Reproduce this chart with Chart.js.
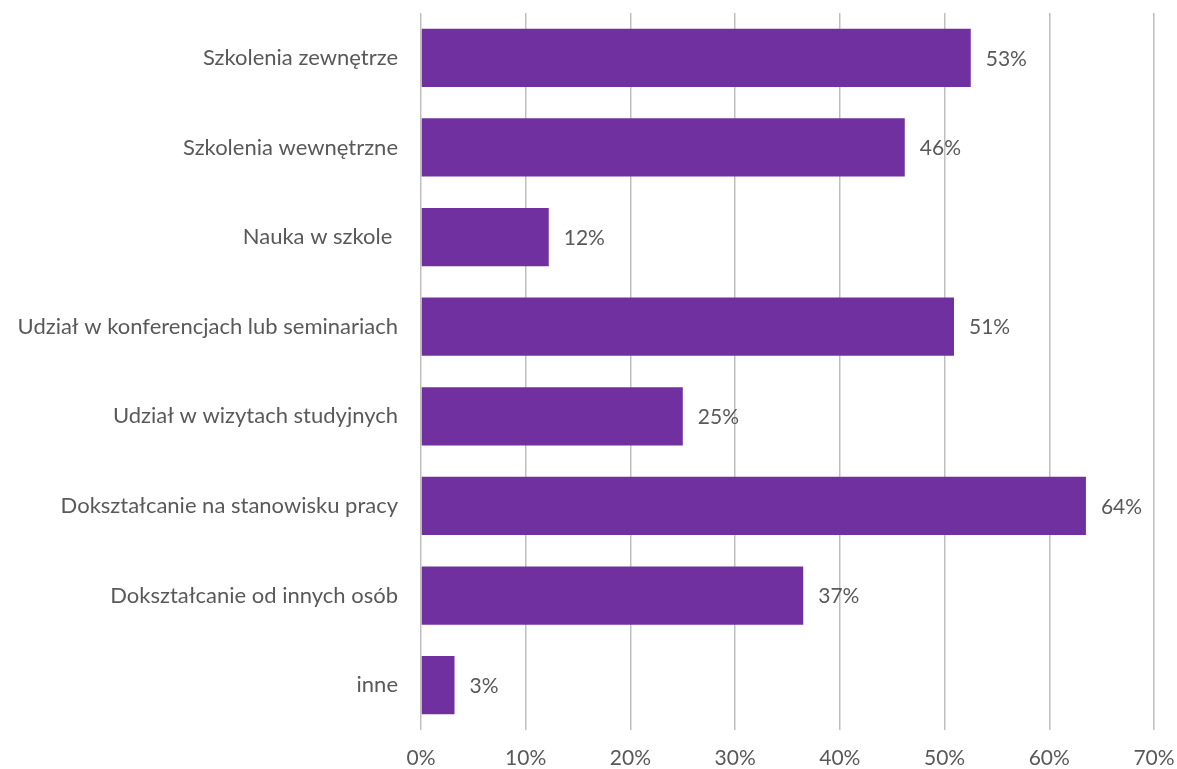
<!DOCTYPE html>
<html>
<head>
<meta charset="utf-8">
<script src="https://cdn.jsdelivr.net/npm/chart.js@4"></script>
<style>
  html, body { margin: 0; padding: 0; background: #fff; }
  #wrap { width: 1177px; height: 769px; }
</style>
</head>
<body>
<div id="wrap"><canvas id="myChart" width="1177" height="769"></canvas></div>
<script>
const categories = [
    "Szkolenia zewnętrze",
    "Szkolenia wewnętrzne",
    "Nauka w szkole ",
    "Udział w konferencjach lub seminariach",
    "Udział w wizytach studyjnych",
    "Dokształcanie na stanowisku pracy",
    "Dokształcanie od innych osób",
    "inne"
]
const values = [52.5, 46.2, 12.2, 50.9, 25.0, 63.5, 36.5, 3.2]
const valueLabels = ["53%", "46%", "12%", "51%", "25%", "64%", "37%", "3%"]
const xTicks = [0, 10, 20, 30, 40, 50, 60, 70]

const textColor = "#595959"
const fontFamily = "Lato, 'Open Sans', sans-serif"

// labels to the right of each bar
const barLabels = {
    id: 'barLabels',
    afterDatasetsDraw(chart) {
        const ctx = chart.ctx
        const meta = chart.getDatasetMeta(0)
        ctx.save()
        ctx.font = "21px " + fontFamily
        ctx.fillStyle = textColor
        ctx.textAlign = "left"
        ctx.textBaseline = "middle"
        meta.data.forEach((bar, i) => {
            ctx.fillText(valueLabels[i], bar.x + 15, bar.y + 1)
        })
        ctx.restore()
    }
}

const ctx = document.getElementById('myChart').getContext('2d')
const myChart = new Chart(ctx, {
    type: 'bar',
    data: {
        labels: categories,
        datasets: [{
            data: values,
            backgroundColor: "#7030A0",
            borderWidth: 0,
            categoryPercentage: 0.65,
            barPercentage: 1.0
        }]
    },
    options: {
        indexAxis: 'y',
        responsive: false,
        animation: false,
        layout: { padding: { top: 13, right: 23, bottom: 0, left: 0 } },
        plugins: {
            legend: { display: false },
            tooltip: { enabled: false }
        },
        scales: {
            x: {
                min: 0,
                max: 70,
                afterBuildTicks: (scale) => {
                    scale.ticks = xTicks.map(v => ({ value: v }))
                },
                grid: { color: "#bfbfbf", lineWidth: 1.5, drawTicks: false },
                border: { display: false },
                ticks: {
                    color: textColor,
                    font: { family: fontFamily, size: 21 },
                    padding: 16,
                    callback: (v) => v + "%"
                },
                afterFit: (scale) => {
                    scale.height = 39
                    scale.paddingLeft = 0
                    scale.paddingRight = 0
                }
            },
            y: {
                grid: { display: false, drawTicks: false },
                border: { display: false },
                ticks: {
                    color: textColor,
                    font: { family: fontFamily, size: 22 },
                    padding: 23
                },
                afterFit: (scale) => {
                    scale.width = 421
                    scale.paddingTop = 0
                    scale.paddingBottom = 0
                }
            }
        }
    },
    plugins: [barLabels]
})
</script>
</body>
</html>
